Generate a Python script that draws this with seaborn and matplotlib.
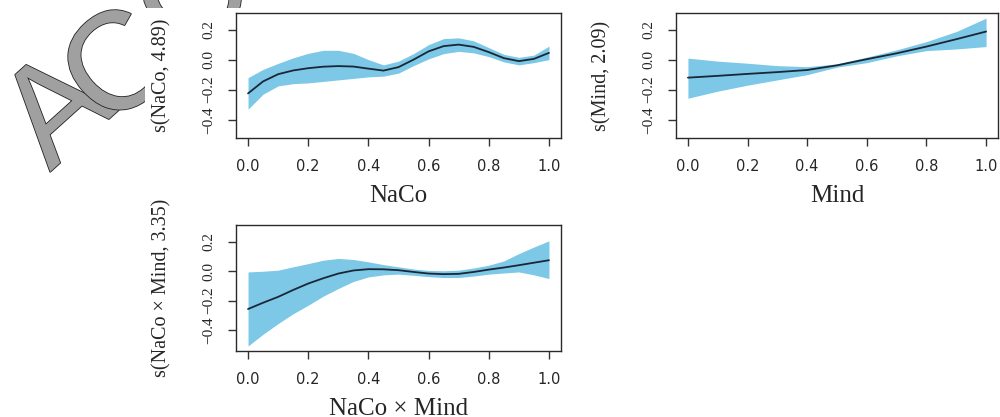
import numpy as np
import pandas as pd
import matplotlib
matplotlib.use("Agg")
import matplotlib.pyplot as plt
import matplotlib.patheffects as pe
from matplotlib.patches import Rectangle
import seaborn as sns

# --- smooth term 1: s(NaCo, 4.89)
naco_x = [0.0, 0.05, 0.1, 0.15, 0.2, 0.25, 0.3, 0.35, 0.4, 0.45, 0.5,
          0.55, 0.6, 0.65, 0.7, 0.75, 0.8, 0.85, 0.9, 0.95, 1.0]
naco_fit = [-0.225, -0.145, -0.097, -0.072, -0.057, -0.047, -0.043, -0.046, -0.06, -0.073, -0.05,
            0.0, 0.055, 0.09, 0.1, 0.085, 0.05, 0.01, -0.01, 0.005, 0.045]
naco_up = [-0.12, -0.065, -0.025, 0.012, 0.042, 0.062, 0.062, 0.042, 0.0, -0.035, -0.01,
           0.04, 0.1, 0.14, 0.145, 0.125, 0.08, 0.035, 0.015, 0.03, 0.09]
naco_lo = [-0.33, -0.23, -0.175, -0.16, -0.155, -0.145, -0.135, -0.125, -0.115, -0.11, -0.09,
           -0.04, 0.005, 0.04, 0.055, 0.045, 0.02, -0.015, -0.035, -0.02, 0.0]

# --- smooth term 2: s(Mind, 2.09)
mind_x = [0.0, 0.1, 0.2, 0.3, 0.4, 0.5, 0.6, 0.7, 0.8, 0.9, 1.0]
mind_fit = [-0.12, -0.108, -0.095, -0.083, -0.069, -0.038, 0.003, 0.042, 0.087, 0.136, 0.187]
mind_up = [0.01, -0.01, -0.024, -0.04, -0.047, -0.028, 0.017, 0.065, 0.12, 0.187, 0.276]
mind_lo = [-0.257, -0.21, -0.17, -0.135, -0.1, -0.05, -0.02, 0.025, 0.06, 0.071, 0.087]

# --- smooth term 3: s(NaCo x Mind, 3.35)
inter_x = naco_x
inter_fit = [-0.258, -0.215, -0.175, -0.128, -0.084, -0.048, -0.016, 0.005, 0.014, 0.013, 0.007,
             -0.005, -0.016, -0.02, -0.018, -0.005, 0.011, 0.025, 0.041, 0.058, 0.075]
inter_up = [-0.005, 0.0, 0.007, 0.03, 0.052, 0.075, 0.087, 0.08, 0.064, 0.045, 0.03,
            0.015, 0.005, 0.003, 0.007, 0.022, 0.041, 0.07, 0.12, 0.165, 0.207]
inter_lo = [-0.51, -0.43, -0.357, -0.29, -0.232, -0.17, -0.118, -0.07, -0.039, -0.025, -0.02,
            -0.028, -0.037, -0.043, -0.043, -0.033, -0.02, -0.012, -0.005, -0.025, -0.05]

xticks = [0.0, 0.2, 0.4, 0.6, 0.8, 1.0]
yticks = [-0.4, -0.2, 0.0, 0.2]

FILL = "#7cc8e6"
LINE = "#1b2636"

sns.set_theme(style="white")
plt.rcParams["font.family"] = ["Liberation Serif", "DejaVu Serif"]

fig = plt.figure(figsize=(10, 4.17), dpi=100)

panels = [
    ([0.236, 0.669, 0.325, 0.30], naco_x, naco_fit, naco_up, naco_lo,
     "NaCo", "s(NaCo, 4.89)", (-0.522, 0.311)),
    ([0.676, 0.669, 0.322, 0.30], mind_x, mind_fit, mind_up, mind_lo,
     "Mind", "s(Mind, 2.09)", (-0.522, 0.311)),
    ([0.236, 0.158, 0.325, 0.302], inter_x, inter_fit, inter_up, inter_lo,
     "NaCo \u00d7 Mind", "s(NaCo \u00d7 Mind, 3.35)", (-0.545, 0.314)),
]

for rect, x, fit, up, lo, xlab, ylab, ylim in panels:
    ax = fig.add_axes(rect)
    df = pd.DataFrame({"x": x, "fit": fit})
    ax.fill_between(x, lo, up, color=FILL, linewidth=0)
    sns.lineplot(data=df, x="x", y="fit", ax=ax, color=LINE, linewidth=1.3)
    ax.set_xlim(-0.04, 1.04)
    ax.set_ylim(*ylim)
    ax.set_xticks(xticks)
    ax.set_xticklabels([f"{t:.1f}" for t in xticks], family="DejaVu Sans", fontsize=10.5)
    ax.set_yticks(yticks)
    ax.set_yticklabels([f"{t:.1f}".replace("-", "\u2212") for t in yticks],
                       rotation=90, va="center", fontsize=11)
    ax.tick_params(axis="both", direction="out", length=6, width=1, color="#333333",
                   bottom=True, left=True, pad=9)
    for s in ax.spines.values():
        s.set_color("#2a2a2a")
        s.set_linewidth(1)
    ax.set_xlabel(xlab, fontsize=18, labelpad=8)
    ax.set_ylabel(ylab, fontsize=14.5, labelpad=22)

# watermark from the manuscript scan, partly hidden under the pasted figure
wm = dict(rotation=42, rotation_mode="anchor", ha="left", va="baseline",
          fontsize=100, family="Liberation Sans", color="#a0a0a0", zorder=-5,
          path_effects=[pe.withStroke(linewidth=1.2, foreground="#222222")])
fig.text(0.050, 0.5875, "A", **wm)
fig.text(0.110, 0.685, "CCEPTED MANUSCRIPT", **wm)
fig.patches.append(Rectangle((0.145, 0.0), 0.855, 0.982, transform=fig.transFigure,
                             facecolor="white", edgecolor="none", zorder=-4))

fig.savefig("out.png", dpi=100)
